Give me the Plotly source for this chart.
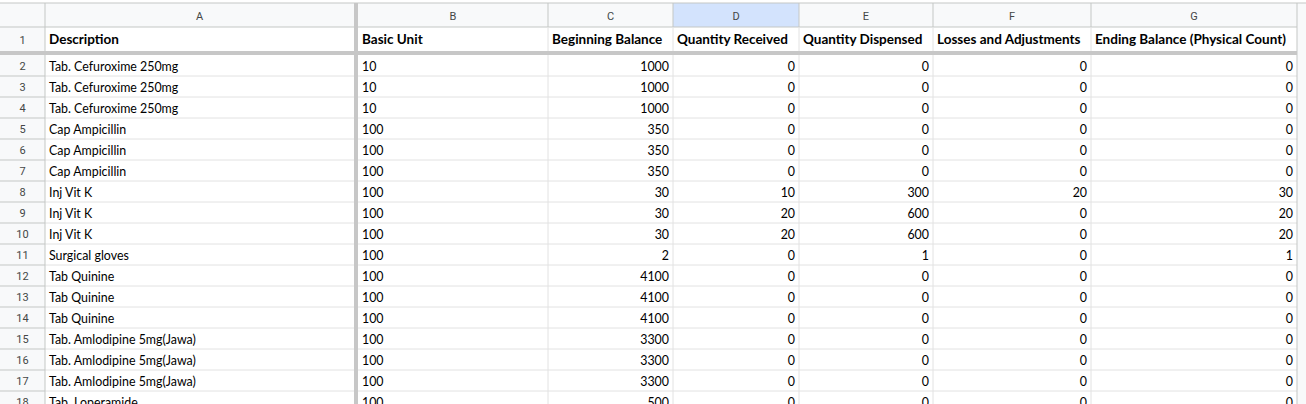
import plotly.graph_objects as go

# ---------------- data ----------------
col_letters = ["A", "B", "C", "D", "E", "F", "G"]
headers = ["Description", "Basic Unit", "Beginning Balance", "Quantity Received",
           "Quantity Dispensed", "Losses and Adjustments", "Ending Balance (Physical Count)"]
description = ["Tab. Cefuroxime 250mg", "Tab. Cefuroxime 250mg", "Tab. Cefuroxime 250mg",
               "Cap Ampicillin", "Cap Ampicillin", "Cap Ampicillin",
               "Inj Vit K", "Inj Vit K", "Inj Vit K", "Surgical gloves",
               "Tab Quinine", "Tab Quinine", "Tab Quinine",
               "Tab. Amlodipine 5mg(Jawa)", "Tab. Amlodipine 5mg(Jawa)", "Tab. Amlodipine 5mg(Jawa)",
               "Tab. Loperamide"]
basic_unit = ["10", "10", "10", "100", "100", "100", "100", "100", "100", "100",
              "100", "100", "100", "100", "100", "100", "100"]
beginning_balance = [1000, 1000, 1000, 350, 350, 350, 30, 30, 30, 2, 4100, 4100, 4100, 3300, 3300, 3300, 500]
quantity_received = [0, 0, 0, 0, 0, 0, 10, 20, 20, 0, 0, 0, 0, 0, 0, 0, 0]
quantity_dispensed = [0, 0, 0, 0, 0, 0, 300, 600, 600, 1, 0, 0, 0, 0, 0, 0, 0]
losses_adjustments = [0, 0, 0, 0, 0, 0, 20, 0, 0, 0, 0, 0, 0, 0, 0, 0, 0]
ending_balance = [0, 0, 0, 0, 0, 0, 30, 20, 20, 1, 0, 0, 0, 0, 0, 0, 0]

# ---------------- layout geometry ----------------
W, H = 1306, 404
col_left = [45, 358, 548, 673, 799, 933, 1091]
col_right = [354, 548, 673, 799, 933, 1091, 1297]
top = 3
hdr_bottom = 27
row1_bottom = 51
freeze_bottom = 55
row_h = 21.0

columns = [description, basic_unit, beginning_balance, quantity_received,
           quantity_dispensed, losses_adjustments, ending_balance]
align_right = [False, False, True, True, True, True, True]

n = len(description)
row_tops = [freeze_bottom + i * row_h for i in range(n + 1)]
row_centers = [t + row_h / 2 for t in row_tops[:n]]

FONT = "Lato"
FS = 12.4
FS_B = 13.5
DY = 2.0  # text baseline nudge
fig = go.Figure()
shapes = []

GRID = "#e2e2e2"
HDR_BG = "#f8f9fa"
HDR_LINE = "#c4c7c5"
FREEZE = "#c7c7c7"

# header backgrounds
shapes.append(dict(type="rect", x0=0, x1=W, y0=top, y1=hdr_bottom, fillcolor=HDR_BG, line_width=0, layer="below"))
shapes.append(dict(type="rect", x0=0, x1=45, y0=top, y1=H, fillcolor=HDR_BG, line_width=0, layer="below"))
shapes.append(dict(type="rect", x0=1297, x1=W, y0=top, y1=H, fillcolor=HDR_BG, line_width=0, layer="below"))
# selected column D header
shapes.append(dict(type="rect", x0=col_left[3], x1=col_right[3], y0=top, y1=hdr_bottom,
                   fillcolor="#d3e3fd", line_width=0, layer="below"))

# horizontal grid lines
for y in row_tops[1:]:
    shapes.append(dict(type="line", x0=45, x1=1297, y0=y, y1=y, line=dict(color=GRID, width=1)))
    shapes.append(dict(type="line", x0=0, x1=45, y0=y, y1=y, line=dict(color=HDR_LINE, width=1)))
shapes.append(dict(type="line", x0=0, x1=1297, y0=hdr_bottom, y1=hdr_bottom, line=dict(color=HDR_LINE, width=1)))
shapes.append(dict(type="line", x0=0, x1=W, y0=top, y1=top, line=dict(color=HDR_LINE, width=1)))

# vertical grid lines
for x in [548, 673, 799, 933, 1091]:
    shapes.append(dict(type="line", x0=x, x1=x, y0=top, y1=hdr_bottom, line=dict(color=HDR_LINE, width=1)))
    shapes.append(dict(type="line", x0=x, x1=x, y0=hdr_bottom, y1=H, line=dict(color=GRID, width=1)))
shapes.append(dict(type="line", x0=45, x1=45, y0=top, y1=H, line=dict(color=HDR_LINE, width=1)))
shapes.append(dict(type="line", x0=1297, x1=1297, y0=top, y1=H, line=dict(color=HDR_LINE, width=1)))

# freeze bars
shapes.append(dict(type="rect", x0=354, x1=358, y0=top, y1=H, fillcolor=FREEZE, line_width=0))
shapes.append(dict(type="rect", x0=0, x1=1297, y0=row1_bottom, y1=freeze_bottom, fillcolor=FREEZE, line_width=0))

# column letters
fig.add_trace(go.Scatter(
    x=[(l + r) / 2 for l, r in zip(col_left, col_right)], y=[(top + hdr_bottom) / 2 + 2] * 7,
    mode="text", text=col_letters, textposition="middle center",
    textfont=dict(family="Roboto", size=11, color="#444746"), hoverinfo="skip"))

# row numbers
row_nums = [str(i) for i in range(1, n + 2)]
fig.add_trace(go.Scatter(
    x=[22.5] * (n + 1), y=[(hdr_bottom + row1_bottom) / 2 + DY] + [c + DY for c in row_centers],
    mode="text", text=row_nums, textposition="middle center",
    textfont=dict(family="Roboto", size=11, color="#444746"), hoverinfo="skip"))

# header row 1
for j, h in enumerate(headers):
    fig.add_trace(go.Scatter(
        x=[col_left[j] + 4], y=[(hdr_bottom + row1_bottom) / 2 + DY],
        mode="text", text=[f"<b>{h}</b>"], textposition="middle right",
        textfont=dict(family=FONT, size=FS_B, color="#000000"), hoverinfo="skip"))

# data cells
for j, col in enumerate(columns):
    if align_right[j]:
        xs = [col_right[j] - 4] * n
        pos = "middle left"
    else:
        xs = [col_left[j] + 4] * n
        pos = "middle right"
    fig.add_trace(go.Scatter(
        x=xs, y=[c + DY for c in row_centers], mode="text", text=[str(v) for v in col],
        textposition=pos, textfont=dict(family=FONT, size=FS, color="#000000"),
        hoverinfo="skip", cliponaxis=True))

fig.update_layout(
    width=W, height=H, margin=dict(l=0, r=0, t=0, b=0),
    paper_bgcolor="white", plot_bgcolor="white", showlegend=False,
    xaxis=dict(range=[0, W], visible=False, fixedrange=True),
    yaxis=dict(range=[H, 0], visible=False, fixedrange=True),
    shapes=shapes,
)
fig.write_html("out.html", config={"displayModeBar": False},
               post_script="document.body.style.margin='0px';document.body.style.overflow='hidden';")
